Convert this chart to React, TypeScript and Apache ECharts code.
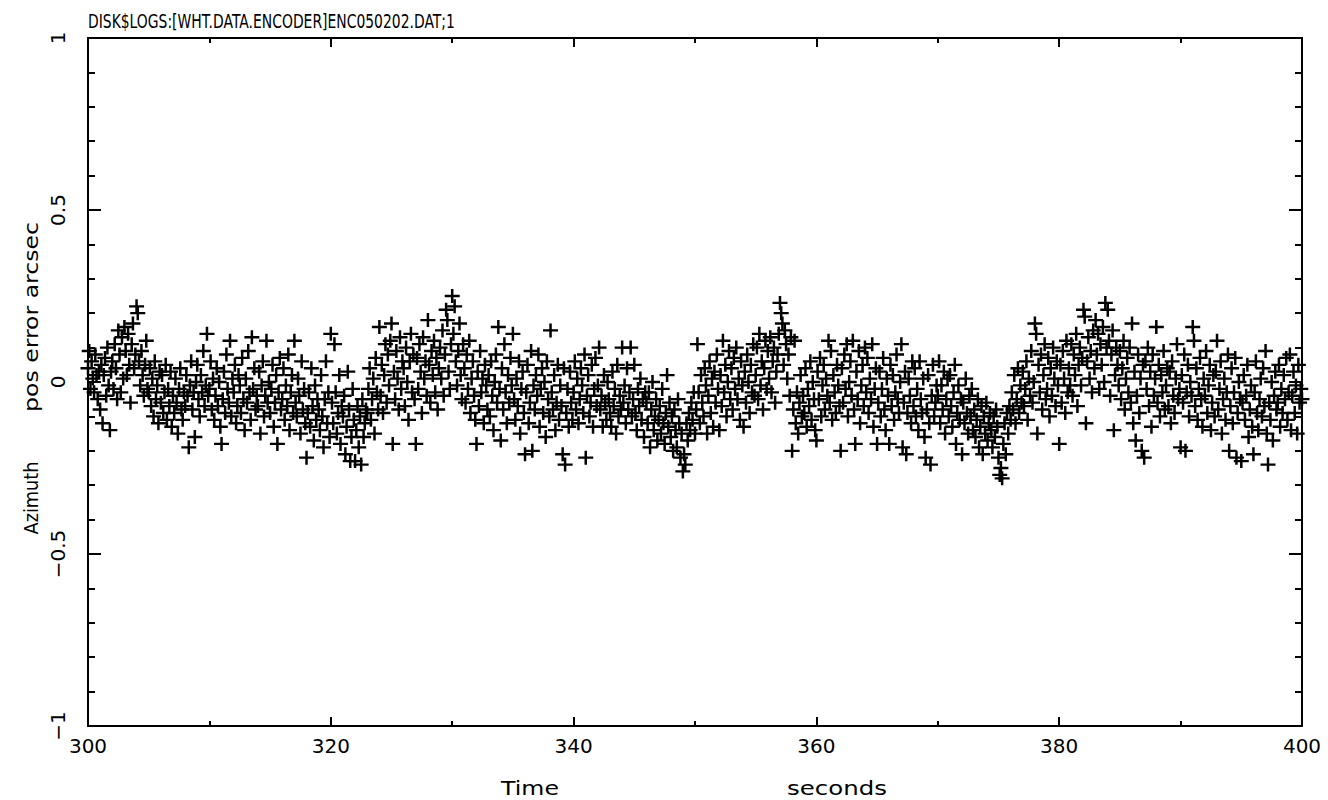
import React, { useEffect, useRef } from "react";
import * as echarts from "echarts";

// Title / axis texts
const chartTitle = "DISK$LOGS:[WHT.DATA.ENCODER]ENC050202.DAT;1";
const yNameLeft = "Azimuth";
const yNameRight = "pos error arcsec";
const xNameLeft = "Time";
const xNameRight = "seconds";

// Axis ranges
const xMin = 300;
const xMax = 400;
const xStep = 20;
const yMin = -1;
const yMax = 1;
const yStep = 0.5;

// Sampling: 10 samples per second; each block covers 10 seconds
const sampleInterval = 0.1;
const blockStarts = [300, 310, 320, 330, 340, 350, 360, 370, 380, 390];

// Azimuth position error (arcsec), one block per 10 s
const err300 = [
  .04, .09, -.02, .06, .01, -.03, .08, .02, -.05, .03,
  -.08, .05, -.12, .02, .07, -.04, .10, -.01, -.14, .03,
  .06, -.02, .11, .04, -.05, .15, .08, -.03, .13, .01,
  .16, .09, .02, .14, .05, -.06, .11, .17, .04, .08,
  .22, .20, .06, -.01, .09, .02, -.04, .05, .12, -.02,
  -.03, .04, -.07, .01, -.10, .06, -.05, -.01, -.12, .03,
  -.06, .02, -.09, -.03, .05, -.11, -.02, -.07, .03, -.13,
  -.04, -.09, .01, -.06, -.15, -.02, .04, -.08, -.11, -.03,
  -.07, .02, -.04, -.19, -.01, .06, -.08, -.03, -.16, .00,
  .05, -.05, -.10, .02, -.03, .09, -.07, -.01, .14, -.04,
];
const err310 = [
  -.02, .06, -.08, .01, -.11, -.04, .04, -.07, .00, -.13,
  -.18, -.05, .03, -.09, .08, -.02, -.06, .12, -.10, .01,
  -.03, .05, -.12, -.07, .02, -.01, -.09, .07, -.05, -.14,
  .01, -.06, .09, -.03, -.11, .13, -.02, .04, -.08, -.04,
  -.07, .03, -.15, -.01, .06, -.10, -.04, .12, -.06, .00,
  -.09, -.02, .05, -.13, -.06, .02, -.18, -.03, .07, -.08,
  -.05, .04, -.11, -.01, -.07, .08, -.14, -.03, .02, -.09,
  .12, -.06, -.10, .01, -.04, -.15, .06, -.08, -.02, -.12,
  -.22, -.09, -.03, -.13, .04, -.07, -.17, -.01, -.11, -.05,
  -.08, -.14, .02, -.10, -.19, -.05, .06, -.12, -.03, -.16,
];
const err320 = [
  .14, -.06, -.12, .11, -.03, -.15, -.09, .02, -.18, -.07,
  -.10, -.04, -.21, -.13, .03, -.08, -.23, -.16, -.02, -.11,
  -.23, -.14, -.07, -.19, -.10, -.24, -.05, -.16, -.12, -.08,
  -.09, -.02, .04, -.11, -.05, .01, -.15, .07, -.03, -.08,
  .16, -.04, .05, -.09, .02, .11, -.06, .08, -.01, .12,
  .17, -.18, .03, -.05, .09, .01, -.08, .13, -.02, .06,
  .04, -.07, .10, .00, -.11, .06, .14, -.03, .08, -.05,
  -.18, .07, -.02, .11, .03, -.09, .13, .01, .06, -.04,
  .18, .05, -.06, .09, .02, .12, -.03, .07, -.08, .04,
  .10, .01, .15, -.04, .08, .21, .18, .03, -.02, .11,
];
const err330 = [
  .25, .14, .22, .06, -.01, .09, .17, .02, -.05, .11,
  .04, -.06, .08, -.02, .12, -.09, .01, .06, -.04, -.11,
  -.18, .03, -.07, .09, -.03, .01, -.12, .05, -.01, -.08,
  .02, -.10, .06, -.04, -.14, .00, .08, -.06, .16, -.02,
  -.17, .04, -.08, .11, -.03, -.12, .02, -.06, .07, -.01,
  .14, -.05, -.11, .01, -.07, .06, -.15, -.02, .03, -.09,
  -.21, -.03, .05, -.12, -.06, .09, -.20, -.01, -.08, .02,
  -.04, .08, -.13, -.02, .04, -.09, .00, -.16, .06, -.05,
  -.10, .15, -.03, -.08, .02, -.14, -.06, .05, -.11, -.01,
  -.07, -.21, .04, -.24, -.09, -.02, -.13, .03, -.06, -.11,
];
const err340 = [
  -.03, .06, -.08, .01, -.12, -.05, .04, -.01, -.09, .08,
  -.22, -.04, .02, -.10, -.06, .05, -.13, -.02, .07, -.07,
  -.01, .10, -.08, -.04, -.13, .02, -.06, -.11, .00, -.05,
  -.09, -.13, .03, -.07, -.02, -.15, .05, -.10, -.04, -.08,
  .10, -.06, -.01, -.12, .04, -.08, -.03, .10, -.10, -.05,
  .05, -.09, -.14, -.02, -.07, .01, -.11, -.05, -.16, -.03,
  -.06, -.12, -.03, -.19, -.08, .00, -.14, -.10, -.05, -.17,
  -.11, -.07, -.15, -.02, -.12, -.18, -.09, .02, -.13, -.06,
  -.16, -.10, -.20, -.08, -.14, -.19, -.05, -.12, -.22, -.15,
  -.26, -.21, -.24, -.12, -.17, -.09, -.14, -.06, -.11, -.03,
];
const err350 = [
  -.15, -.08, .11, -.03, -.12, .02, -.06, -.10, .04, -.01,
  -.15, -.04, .06, -.09, .01, -.13, .03, -.06, .08, -.02,
  -.14, .02, -.07, .12, -.03, .05, -.10, .00, .09, -.05,
  .04, -.08, .07, -.02, .10, -.05, .01, -.11, .06, -.01,
  -.13, .03, -.06, .08, .00, -.09, .05, -.03, .11, -.04,
  .02, .10, -.05, .14, -.01, .06, -.08, .04, .12, -.02,
  .09, .01, .13, -.03, .06, .10, -.06, .03, .08, .14,
  .23, .20, .17, .05, .15, .11, .01, .08, -.04, .13,
  -.20, -.08, .12, -.12, -.03, -.15, -.06, .02, -.10, -.04,
  -.09, .04, -.13, -.02, -.07, .06, -.11, .00, -.05, -.14,
];
const err360 = [
  -.17, .03, -.05, .07, -.10, -.01, .05, -.08, .01, -.04,
  .12, -.06, .09, -.11, .02, -.03, -.09, .05, -.01, -.07,
  -.20, .04, -.06, .08, -.02, .11, -.10, .00, .06, -.04,
  .12, -.08, -.18, .03, -.05, .09, -.12, -.01, .05, -.07,
  .10, -.03, .07, -.09, .01, -.05, .11, -.13, -.02, .04,
  -.18, -.06, .03, -.10, -.02, .07, -.08, -.14, .01, -.04,
  -.18, .05, -.07, .02, -.11, -.03, .08, -.05, -.09, .00,
  .11, -.19, -.06, .03, -.21, -.09, .01, -.04, -.12, .06,
  -.07, .04, -.10, -.02, -.14, .06, -.05, -.09, .01, -.16,
  -.22, -.08, .02, -.12, -.24, -.04, .05, -.10, -.06, -.01,
];
const err370 = [
  -.04, .06, -.12, -.01, -.08, .03, -.15, -.05, .01, -.10,
  .02, -.07, -.13, -.03, .05, -.18, -.09, -.01, -.11, -.05,
  -.21, -.06, -.12, .01, -.09, -.15, -.04, -.10, -.02, -.14,
  -.08, -.16, -.11, -.05, -.19, -.13, -.07, -.21, -.10, -.15,
  -.06, -.17, -.12, -.09, -.14, -.19, -.10, -.16, -.08, -.13,
  -.22, -.27, -.25, -.28, -.18, -.12, -.21, -.09, -.15, -.07,
  -.11, -.03, -.08, .02, -.12, -.05, .04, -.09, -.01, -.06,
  .03, -.07, -.02, .06, -.11, .01, -.04, .09, -.06, .00,
  .17, .14, -.15, .05, -.03, .08, -.08, .02, .11, -.05,
  -.02, .07, -.10, .04, -.04, .10, .01, -.07, .06, -.01,
];
const err380 = [
  -.18, .05, -.06, .09, .01, -.09, .12, -.03, .04, -.01,
  .11, -.04, .08, .02, .14, -.07, .05, .10, -.01, .07,
  .21, .19, -.12, .06, .13, .01, .09, -.03, .15, .04,
  .18, .08, .14, -.02, .11, .05, .16, .00, .23, .10,
  .21, .12, -.04, .08, .15, -.14, .02, .10, .05, -.01,
  .09, -.05, .04, .12, -.08, .01, .07, -.03, .10, -.06,
  .17, -.12, .03, -.17, -.04, .08, -.09, .01, -.20, .05,
  -.22, .06, -.02, .10, -.07, .03, -.13, .08, -.04, .01,
  .16, -.06, .05, -.10, .02, -.03, .09, -.08, -.01, .04,
  -.07, .03, -.12, .06, -.04, -.09, .01, .11, -.05, -.02,
];
const err390 = [
  -.19, .02, -.06, .08, -.20, -.03, .05, -.10, .00, -.04,
  .16, .12, -.07, .04, -.11, -.02, .07, -.05, -.13, .01,
  -.04, .09, -.09, -.01, .05, -.14, -.06, .02, -.10, .03,
  .12, -.08, -.02, .06, -.15, -.05, .01, -.11, -.03, .08,
  -.20, -.07, .04, -.12, -.03, .07, -.22, -.09, .00, -.05,
  -.23, -.06, .02, -.11, -.04, .05, -.16, -.08, -.01, -.13,
  -.21, -.03, .06, -.09, -.14, -.05, .01, -.10, .04, -.07,
  .09, -.15, -.24, -.06, -.11, .00, -.17, -.04, .03, -.08,
  -.06, .05, -.13, -.02, -.09, .02, -.05, .07, -.11, -.03,
  .08, -.14, -.04, .03, -.09, -.01, -.15, .05, -.06, -.02,
];
const err400 = [-.05];

const blocks = [err300, err310, err320, err330, err340, err350, err360, err370, err380, err390];

const FONT = "DejaVu Sans";

function measure(text: string, size: number): number {
  const c = document.createElement("canvas").getContext("2d");
  if (!c) return text.length * size * 0.6;
  c.font = `${size}px "${FONT}"`;
  return c.measureText(text).width;
}

function minusFmt(v: number): string {
  if (v < 0) return "\u2212" + String(-v);
  return String(v);
}

export default function App() {
  const ref = useRef<HTMLDivElement>(null);

  useEffect(() => {
    if (!ref.current) return;
    const chart = echarts.init(ref.current, null, { renderer: "svg" });

    const points: [number, number][] = [];
    blocks.forEach((blk, b) => {
      blk.forEach((v, i) => {
        points.push([+(blockStarts[b] + i * sampleInterval).toFixed(2), v]);
      });
    });
    err400.forEach((v) => points.push([xMax, v]));

    const titleSize = 20;
    const nameSize = 19;
    const xNameSize = 20;
    const sx = (t: string, size: number, target: number) => target / measure(t, size);

    const axisLineStyle = { color: "#000", width: 2 };
    const xAxisBase = {
      type: "value",
      min: xMin,
      max: xMax,
      interval: xStep,
      axisLine: { show: true, onZero: false, lineStyle: axisLineStyle },
      axisTick: { show: true, inside: true, length: 9, lineStyle: axisLineStyle },
      minorTick: { show: true, splitNumber: 2, length: 5, lineStyle: axisLineStyle },
      splitLine: { show: false },
      minorSplitLine: { show: false },
    };
    const yAxisBase = {
      type: "value",
      min: yMin,
      max: yMax,
      interval: yStep,
      axisLine: { show: true, onZero: false, lineStyle: axisLineStyle },
      axisTick: { show: true, inside: true, length: 13, lineStyle: axisLineStyle },
      minorTick: { show: true, splitNumber: 5, length: 7, lineStyle: axisLineStyle },
      splitLine: { show: false },
      minorSplitLine: { show: false },
    };

    const txt = (
      text: string,
      x: number,
      y: number,
      size: number,
      target: number,
      rotated: boolean,
      align: string
    ) => ({
      type: "text",
      x,
      y,
      rotation: rotated ? Math.PI / 2 : 0,
      scaleX: sx(text, size, target),
      style: {
        text,
        fontSize: size,
        fontFamily: FONT,
        fill: "#000",
        align,
        verticalAlign: "middle",
      },
    });

    chart.setOption({
      animation: false,
      backgroundColor: "#fff",
      grid: { left: 88, right: 26, top: 38, bottom: 74 },
      xAxis: [
        {
          ...xAxisBase,
          position: "bottom",
          axisLabel: { color: "#000", fontSize: 20, fontFamily: FONT, margin: 10 },
        },
        { ...xAxisBase, position: "top", axisLabel: { show: false } },
      ],
      yAxis: [
        {
          ...yAxisBase,
          position: "left",
          axisLabel: {
            color: "#000",
            fontSize: 20,
            fontFamily: FONT,
            rotate: 90,
            margin: 20,
            formatter: minusFmt,
          },
        },
        { ...yAxisBase, position: "right", axisLabel: { show: false } },
      ],
      graphic: [
        txt(chartTitle, 88, 21, titleSize, 367, false, "left"),
        txt(yNameLeft, 31, 498, nameSize, 73, true, "center"),
        txt(yNameRight, 31, 317, nameSize, 190, true, "center"),
        txt(xNameLeft, 530, 788, xNameSize, 58, false, "center"),
        txt(xNameRight, 837, 788, xNameSize, 100, false, "center"),
      ],
      series: [
        {
          type: "scatter",
          xAxisIndex: 0,
          yAxisIndex: 0,
          data: points,
          symbol: "path://M6.25,0H8.75V6.25H15V8.75H8.75V15H6.25V8.75H0V6.25H6.25Z",
          symbolSize: [15, 14],
          itemStyle: { color: "#000", opacity: 1 },
          silent: true,
        },
      ],
    });

    return () => chart.dispose();
  }, []);

  return (
    <div
      ref={ref}
      style={{ position: "fixed", left: 0, top: 0, width: 1328, height: 800, background: "#fff" }}
    />
  );
}
